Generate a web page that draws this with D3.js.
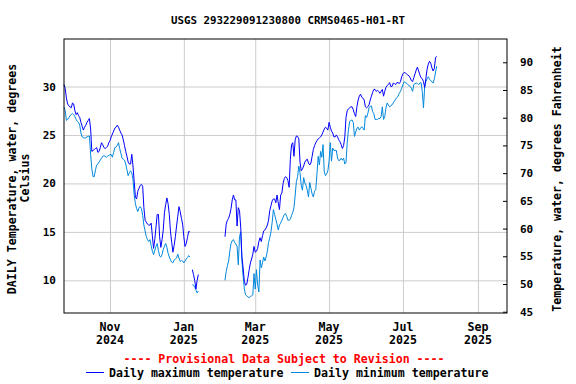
<!DOCTYPE html>
<html>
<head>
<meta charset="utf-8">
<script src="https://cdn.jsdelivr.net/npm/d3@7"></script>
<style>
  body { margin: 0; background: #fff; }
  svg text { font-family: "DejaVu Sans Mono", monospace; font-weight: bold; fill: #000; }
</style>
</head>
<body>
<svg id="chart"></svg>
<script>
// daily values, one per day starting at startDate (null = missing)
const startDate = "2024-09-24";
const maxTemp = [
  30.2, 29.8, 28.8, 28.2, 28.0, 27.9, 27.8, 28.3, 28.2, 27.5,
  27.1, 27.3, 27.0, 26.8, 26.3, 25.9, 25.5, 25.8, 26.0, 26.3,
  26.5, 26.7, 25.6, 23.3, 23.4, 23.5, 23.6, 23.7, 23.2, 23.3,
  23.7, 24.2, 24.0, 23.7, 23.6, 23.7, 23.8, 24.2, 24.4, 24.8,
  25.1, 25.4, 25.7, 25.8, 26.0, 25.8, 25.5, 25.2, 25.0, 24.5,
  23.9, 23.3, 22.8, 22.2, 22.0, 22.0, 23.0, 21.8, 20.2, 18.6,
  18.4, 19.2, 19.5, 19.8, 19.9, 19.7, 17.5, 16.2, 16.0, 15.8,
  15.7, 15.7, 15.9, 14.6, 13.3, 14.2, 15.5, 16.8, 16.8, 14.5,
  13.4, 14.2, 15.2, 17.0, 17.8, 18.5, 17.9, 16.8, 15.0, 13.9,
  12.9, 13.6, 14.5, 15.6, 16.6, 17.6, 17.1, 16.4, 15.8, 14.5,
  13.5, 13.8, 14.4, 15.05, 15.0, null, 11.1, 10.6, 10.0, 9.1,
  10.0, 10.6, null, null, null, null, null, null, null, null,
  null, null, null, null, null, null, null, null, null, null,
  null, null, null, 14.5, 15.8, 16.2, 16.4, 16.8, 17.4, 18.3,
  18.8, 18.3, 18.3, 15.6, 17.5, 17.2, 15.5, 12.4, 11.3, 9.9,
  9.5, 9.6, 10.3, 11.1, 11.8, 12.2, 12.7, 13.5, 12.9, 13.0,
  13.3, 14.0, 14.4, 14.0, 14.6, 15.1, 15.2, 15.4, 15.7, 16.2,
  17.2, 17.7, 18.2, 18.4, 18.4, 18.0, 18.8, 18.0, 17.3, 18.8,
  19.0, 20.0, 20.5, 20.7, 20.6, 20.3, 19.6, 22.5, 24.0, 24.2,
  22.8, 24.5, 24.9, 24.85, 24.6, 22.2, 21.3, 21.5, 21.8, 22.2,
  22.4, 22.5, 22.1, 21.9, 22.1, 22.8, 23.5, 23.9, 24.2, 24.4,
  24.6, 24.7, 24.8, 25.0, 25.3, 25.6, 25.8, 25.7, 25.5, 26.3,
  25.8, 25.4, 25.2, 24.8, 24.8, 25.0, 24.8, 24.5, 24.3, 24.0,
  23.6, 23.9, 24.8, 26.8, 27.5, 27.7, 27.8, 27.9, 27.9, 27.6,
  27.2, 26.9, 27.9, 28.6, 29.0, 29.2, 28.9, 28.8, 28.6, 27.9,
  27.8, 27.9, 28.1, 28.6, 29.0, 29.4, 29.7, 29.7, 29.5, 29.6,
  29.5, 29.3, 29.5, 29.7, 29.0, 29.5, 29.9, 30.1, 30.2, 30.4,
  30.0, 30.0, 30.35, 30.3, 30.2, 30.4, 30.4, 30.3, 30.5, 31.0,
  31.3, 31.45, 31.4, 31.3, 31.2, 31.1, 30.9, 30.6, 30.5, 30.9,
  31.3, 31.7, 32.0, 31.6, 31.2, 30.9, 30.8, 30.5, 29.9, 30.85,
  31.8, 32.3, 32.6, 32.4, 31.9, 31.6, 31.9, 33.0, 33.1
];
const minTemp = [
  27.9, 27.5, 26.5, 26.6, 26.8, 27.0, 27.1, 27.2, 27.1, 26.9,
  26.6, 26.4, 26.3, 26.0, 25.2, 24.8, 24.7, 24.7, 24.7, 24.8,
  24.85, 24.9, 23.0, 21.5, 20.7, 20.7, 21.4, 21.9, 22.0, 22.2,
  22.4, 22.6, 22.8, 22.85, 22.8, 22.7, 22.8, 22.9, 22.95, 23.0,
  22.7, 23.2, 23.7, 23.75, 23.9, 24.2, 23.6, 23.1, 22.6, 22.5,
  22.4, 22.0, 21.4, 20.8, 21.1, 21.3, 21.1, 20.4, 18.8, 17.9,
  17.4, 17.1, 17.5, 17.6, 17.4, 16.7, 15.7, 15.1, 14.5, 14.2,
  14.0, 14.2, 13.6, 13.0, 12.65, 13.1, 13.5, 13.8, 13.1, 12.5,
  12.4, 12.65, 13.2, 13.5, 13.8, 13.4, 12.8, 12.4, 12.1, 11.9,
  11.8, 12.1, 12.2, 12.3, 12.7, 12.3, 11.95, 12.05, 12.0, 11.8,
  12.0, 12.2, 12.35, 12.55, 12.4, null, 9.55, 9.5, 9.3, 9.0,
  8.7, 8.9, null, null, null, null, null, null, null, null,
  null, null, null, null, null, null, null, null, null, null,
  null, null, null, 10.0, 10.9, 11.5, 12.0, 13.0, 13.8, 14.1,
  14.2, 13.9, 13.75, 13.5, 11.6, 14.5, 15.0, 12.0, 10.4, 9.1,
  8.5, 8.4, 8.3, 8.2, 8.35, 8.4, 8.5, 10.7, 9.1, 11.1,
  9.5, 8.8, 12.1, 11.3, 11.8, 12.4, 12.0, 12.4, 13.0, 13.9,
  14.4, 15.0, 16.0, 17.3, 16.8, 16.3, 15.8, 15.2, 15.7, 15.9,
  16.2, 16.5, 16.8, 16.9, 16.6, 16.2, 16.2, 16.3, 16.7, 17.0,
  17.5, 18.8, 20.2, 20.7, 21.8, 21.1, 19.8, 19.3, 20.6, 20.05,
  19.8, 19.3, 18.6, 20.1, 19.5, 18.9, 18.6, 19.2, 19.35, 21.0,
  22.8, 21.9, 23.3, 22.7, 24.0, 21.25, 20.8, 21.0, 21.3, 22.3,
  24.2, 22.3, 23.65, 23.4, 23.4, 23.4, 22.6, 22.35, 22.4, 22.6,
  22.4, 22.6, 22.0, 22.2, 24.2, 25.5, 26.4, 26.5, 26.55, 26.3,
  24.85, 25.3, 25.7, 25.8, 25.5, 25.7, 25.85, 25.7, 25.5, 27.0,
  26.8, 27.2, 27.8, 27.95, 28.0, 27.4, 27.2, 26.6, 26.6, 26.6,
  26.7, 26.7, 26.9, 27.9, 26.6, 26.9, 27.8, 28.3, 28.1, 27.9,
  28.0, 28.1, 28.3, 28.5, 28.7, 28.85, 29.0, 29.3, 29.5, 29.8,
  30.2, 30.5, 30.4, 30.35, 30.2, 30.1, 30.0, 29.8, 29.5, 30.2,
  30.3, 30.35, 30.3, 30.2, 30.35, 30.4, 29.5, 27.8, 30.0, 30.5,
  30.8, 31.0, 30.75, 30.6, 30.5, 30.35, 30.8, 31.5, 32.1
];

const celsiusTicks = [10, 15, 20, 25, 30];
const fahrenheitTicks = [45, 50, 55, 60, 65, 70, 75, 80, 85, 90];
const monthTicks = ["2024-11-01", "2025-01-01", "2025-03-01", "2025-05-01", "2025-07-01", "2025-09-01"];

const width = 576;
const height = 384;
const margin = { top: 39, right: 69, bottom: 71, left: 64 };
const plotW = width - margin.left - margin.right;
const plotH = height - margin.top - margin.bottom;

const svg = d3.select("#chart").attr("width", width).attr("height", height);

const parse = d3.timeParse("%Y-%m-%d");
const day0 = parse(startDate);
const series = (vals) => vals.map((v, i) => ({ date: d3.timeDay.offset(day0, i), value: v }));

const xScale = d3.scaleTime()
    .domain([parse("2024-09-24"), parse("2025-09-25")])
    .range([0, plotW]);
const yScale = d3.scaleLinear().domain([6.63, 34.9]).range([plotH, 0]);
const yRight = d3.scaleLinear().domain([44.77, 94.2]).range([plotH, 0]);

const chart = svg.append("g")
    .attr("transform", `translate(${margin.left},${margin.top})`);

// grid
chart.append("g")
    .call(d3.axisLeft(yScale).tickValues(celsiusTicks).tickSize(-plotW).tickFormat(""))
    .call(g => g.select(".domain").remove())
    .call(g => g.selectAll("line").attr("stroke", "#cccccc"));
chart.append("g")
    .attr("transform", `translate(0,${plotH})`)
    .call(d3.axisBottom(xScale).tickValues(monthTicks.map(parse)).tickSize(-plotH).tickFormat(""))
    .call(g => g.select(".domain").remove())
    .call(g => g.selectAll("line").attr("stroke", "#cccccc"));

// lines
const line = d3.line()
    .defined(d => d.value != null)
    .x(d => xScale(d.date))
    .y(d => yScale(d.value));

chart.append("path")
    .datum(series(minTemp))
    .attr("fill", "none")
    .attr("stroke", "#0088dd")
    .attr("stroke-width", 1)
    .attr("d", line);

chart.append("path")
    .datum(series(maxTemp))
    .attr("fill", "none")
    .attr("stroke", "#0000ff")
    .attr("stroke-width", 1)
    .attr("d", line);

// frame
chart.append("rect")
    .attr("x", 0).attr("y", 0)
    .attr("width", plotW).attr("height", plotH)
    .attr("fill", "none")
    .attr("stroke", "#000")
    .attr("stroke-width", 1);

// left axis labels
const leftAxis = chart.append("g")
    .call(d3.axisLeft(yScale).tickValues(celsiusTicks).tickSize(0).tickPadding(8));
leftAxis.select(".domain").remove();
leftAxis.selectAll("text")
    .style("font-family", "DejaVu Sans Mono")
    .style("font-weight", "bold")
    .style("font-size", "11px");

// right axis (Fahrenheit)
const rightAxis = chart.append("g")
    .attr("transform", `translate(${plotW},0)`)
    .call(d3.axisRight(yRight).tickValues(fahrenheitTicks).tickSizeInner(-4).tickSizeOuter(0).tickPadding(13));
rightAxis.select(".domain").remove();
rightAxis.selectAll("line").attr("stroke", "#000");
rightAxis.selectAll("text")
    .style("font-family", "DejaVu Sans Mono")
    .style("font-weight", "bold")
    .style("font-size", "11px");

// bottom axis labels, two lines
const fmtMonth = d3.timeFormat("%b");
const fmtYear = d3.timeFormat("%Y");
const xLabels = chart.append("g").attr("transform", `translate(0,${plotH})`);
monthTicks.map(parse).forEach(d => {
    const t = xLabels.append("text")
        .attr("x", xScale(d))
        .attr("text-anchor", "middle")
        .style("font-size", "11.6px");
    t.append("tspan").attr("x", xScale(d)).attr("y", 18).text(fmtMonth(d));
    t.append("tspan").attr("x", xScale(d)).attr("y", 31).text(fmtYear(d));
});

// title
svg.append("text")
    .attr("x", 288).attr("y", 24)
    .attr("text-anchor", "middle")
    .style("font-size", "10.8px")
    .text("USGS 293229091230800 CRMS0465-H01-RT");

// y labels
svg.append("text")
    .attr("transform", "translate(16,179) rotate(-90)")
    .attr("text-anchor", "middle")
    .style("font-size", "11.6px")
    .text("DAILY Temperature, water, degrees");
svg.append("text")
    .attr("transform", "translate(29,178) rotate(-90)")
    .attr("text-anchor", "middle")
    .style("font-size", "11.6px")
    .text("Celsius");
svg.append("text")
    .attr("transform", "translate(561,179) rotate(-90)")
    .attr("text-anchor", "middle")
    .style("font-size", "11.6px")
    .text("Temperature, water, degrees Fahrenheit");

// provisional note
svg.append("text")
    .attr("x", 284).attr("y", 363)
    .attr("text-anchor", "middle")
    .style("font-size", "11.6px")
    .style("fill", "#ff0000")
    .text("---- Provisional Data Subject to Revision ----");

// legend
const legendItems = [
    { label: "Daily maximum temperature", color: "#0000ff", x: 86 },
    { label: "Daily minimum temperature", color: "#0088dd", x: 291 }
];
legendItems.forEach(item => {
    svg.append("line")
        .attr("x1", item.x).attr("x2", item.x + 18)
        .attr("y1", 372.5).attr("y2", 372.5)
        .attr("stroke", item.color)
        .attr("stroke-width", 1);
    svg.append("text")
        .attr("x", item.x + 23).attr("y", 377)
        .style("font-size", "11.6px")
        .text(item.label);
});
</script>
</body>
</html>
